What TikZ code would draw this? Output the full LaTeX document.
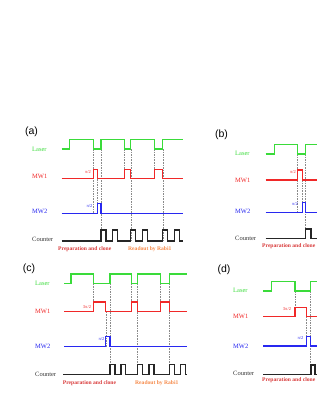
\documentclass[tikz,border=0pt]{standalone}
\usepackage{fontspec}
\setmainfont{Liberation Serif}
\newfontfamily\lsans{Liberation Sans}
\definecolor{lgreen}{HTML}{3ADB3A}
\definecolor{mred}{HTML}{F02828}
\definecolor{mblue}{HTML}{2828F0}
\definecolor{prepred}{HTML}{D83A3A}
\definecolor{readorange}{HTML}{F58A4A}
\definecolor{guidegrey}{HTML}{8A8A8A}
\begin{document}
\begin{tikzpicture}[x=1pt,y=-1pt,
  laser/.style={draw=lgreen,line width=1.25pt},
  mwone/.style={draw=mred,line width=1.25pt},
  mwtwo/.style={draw=mblue,line width=1.25pt},
  counter/.style={draw=black!85,line width=1.25pt},
  guide/.style={draw=guidegrey,line width=0.45pt,dash pattern=on 1.6pt off 1pt},
  lbl/.style={anchor=west,inner sep=0pt,font=\fontsize{6.5}{7}\selectfont},
  plab/.style={inner sep=0pt,font=\fontsize{4.5}{5}\selectfont},
  panel/.style={inner sep=0pt,font=\lsans\fontsize{10.5}{12}\selectfont},
  note/.style={anchor=west,inner sep=0pt,font=\bfseries\fontsize{5.6}{6}\selectfont}]
\useasboundingbox (0,0) rectangle (316,409);

% ================= (a) =================
\node[panel] (pa) at (31.5,131.5) {(a)};
\node[lbl,text=lgreen] (aL) at (32,149) {Laser};
\node[lbl,text=mred] (aM1) at (32,176.5) {MW1};
\node[lbl,text=mblue] (aM2) at (32,211) {MW2};
\node[lbl,text=black!80] (aC) at (32,239.5) {Counter};
% guides
\draw[guide] (93.3,149) -- (93.3,213.5);
\draw[guide] (97.3,179) -- (97.3,213.5);
\draw[guide] (101,149) -- (101,240.5);
\draw[guide] (124.3,149) -- (124.3,169.5);
\draw[guide] (130.8,149) -- (130.8,240.5);
\draw[guide] (154.2,149) -- (154.2,169.5);
\draw[guide] (162.8,149) -- (162.8,240.5);
% traces
\draw[laser] (61.7,149) -- (69.3,149) -- (69.3,139.7) -- (93.3,139.7) -- (93.3,149) -- (101,149) -- (101,139.7) -- (124.3,139.7) -- (124.3,149) -- (130.8,149) -- (130.8,139.7) -- (154.2,139.7) -- (154.2,149) -- (162.8,149) -- (162.8,139.7) -- (182.7,139.7);
\draw[mwone] (61.7,178.8) -- (93.3,178.8) -- (93.3,169.2) -- (97.3,169.2) -- (97.3,178.8) -- (124.3,178.8) -- (124.3,169.2) -- (130.8,169.2) -- (130.8,178.8) -- (154.2,178.8) -- (154.2,169.2) -- (162.8,169.2) -- (162.8,178.8) -- (182.7,178.8);
\draw[mwtwo] (61.7,213.5) -- (97.3,213.5) -- (97.3,203.3) -- (101,203.3) -- (101,213.5) -- (182.7,213.5);
\draw[counter] (61.7,241) -- (101,241) -- (101,230) -- (106,230) -- (106,241) -- (112.7,241) -- (112.7,230) -- (117.5,230) -- (117.5,241) -- (130.8,241) -- (130.8,230) -- (135.8,230) -- (135.8,241) -- (142.5,241) -- (142.5,230) -- (147.5,230) -- (147.5,241) -- (162.8,241) -- (162.8,230) -- (167.8,230) -- (167.8,241) -- (174.5,241) -- (174.5,230) -- (179.5,230) -- (179.5,241) -- (182.7,241);
\node[plab,text=mred] (apa) at (88,171.7) {π/2};
\node[plab,text=mblue] (apb) at (89.5,205.7) {π/2};
\node[note,text=prepred] (aprep) at (58,249) {Preparation and clone};
\node[note,text=readorange] (aread) at (128,249) {Readout by Rabi1};

% ================= (b) =================
\node[panel] (pb) at (221.5,135) {(b)};
\node[lbl,text=lgreen] (bL) at (235,153.5) {Laser};
\node[lbl,text=mred] (bM1) at (235,180) {MW1};
\node[lbl,text=mblue] (bM2) at (235,211) {MW2};
\node[lbl,text=black!80] (bC) at (235,238) {Counter};
\draw[guide] (297.7,154) -- (297.7,212.5);
\draw[guide] (302.7,180) -- (302.7,212.5);
\draw[guide] (305.7,154) -- (305.7,238);
\draw[laser] (265.7,154) -- (274.3,154) -- (274.3,144.3) -- (297.7,144.3) -- (297.7,154) -- (305.7,154) -- (305.7,144.3) -- (316.5,144.3);
\draw[mwone] (265.7,180) -- (297.7,180) -- (297.7,170) -- (302.7,170) -- (302.7,180) -- (316.5,180);
\draw[mwtwo] (265.7,212.7) -- (302.7,212.7) -- (302.7,202.7) -- (305.7,202.7) -- (305.7,212.7) -- (316.5,212.7);
\draw[counter] (265.7,238.3) -- (305.7,238.3) -- (305.7,229) -- (311,229) -- (311,238.3) -- (316.5,238.3);
\node[plab,text=mred] (bpa) at (293,172) {π/2};
\node[plab,text=mblue] (bpb) at (295,204) {π/2};
\node[note,text=prepred] (bprep) at (262,246) {Preparation and clone};

% ================= (c) =================
\node[panel] (pc) at (29,268.5) {(c)};
\node[lbl,text=lgreen] (cL) at (35,283.3) {Laser};
\node[lbl,text=mred] (cM1) at (35,311.7) {MW1};
\node[lbl,text=mblue] (cM2) at (35,346.7) {MW2};
\node[lbl,text=black!80] (cC) at (35,374.5) {Counter};
\draw[guide] (93.5,283.3) -- (93.5,302);
\draw[guide] (105.8,311.5) -- (105.8,346.5);
\draw[guide] (110,283.3) -- (110,374.7);
\draw[guide] (131.7,283.3) -- (131.7,302);
\draw[guide] (137.5,283.3) -- (137.5,374.7);
\draw[guide] (160.7,283.3) -- (160.7,302);
\draw[guide] (169.3,283.3) -- (169.3,374.7);
\draw[laser] (64,283.3) -- (71,283.3) -- (71,274) -- (93.5,274) -- (93.5,283.3) -- (110,283.3) -- (110,274) -- (131.7,274) -- (131.7,283.3) -- (137.5,283.3) -- (137.5,274) -- (160.7,274) -- (160.7,283.3) -- (169.3,283.3) -- (169.3,274) -- (186.7,274);
\draw[mwone] (64,311.5) -- (93.5,311.5) -- (93.5,302) -- (105.8,302) -- (105.8,311.5) -- (131.7,311.5) -- (131.7,302) -- (137.5,302) -- (137.5,311.5) -- (160.7,311.5) -- (160.7,302) -- (169.3,302) -- (169.3,311.5) -- (186.7,311.5);
\draw[mwtwo] (64,346.5) -- (105.8,346.5) -- (105.8,336.5) -- (110,336.5) -- (110,346.5) -- (186.7,346.5);
\draw[counter] (63.3,374.8) -- (110,374.8) -- (110,364.2) -- (115,364.2) -- (115,374.8) -- (121,374.8) -- (121,364.2) -- (125.7,364.2) -- (125.7,374.8) -- (137.5,374.8) -- (137.5,364.2) -- (142.5,364.2) -- (142.5,374.8) -- (149,374.8) -- (149,364.2) -- (154,364.2) -- (154,374.8) -- (169.3,374.8) -- (169.3,364.2) -- (174.3,364.2) -- (174.3,374.8) -- (180.5,374.8) -- (180.5,364.2) -- (185.5,364.2) -- (185.5,374.8) -- (186.7,374.8);
\node[plab,text=mred] (cpa) at (87,306.7) {3π/2};
\node[plab,text=mblue] (cpb) at (101.5,339.3) {π/2};
\node[note,text=prepred] (cprep) at (62.7,383.3) {Preparation and clone};
\node[note,text=readorange] (cread) at (135,383.3) {Readout by Rabi1};

% ================= (d) =================
\node[panel] (pd) at (224,270) {(d)};
\node[lbl,text=lgreen] (dL) at (233,290.5) {Laser};
\node[lbl,text=mred] (dM1) at (233,316.5) {MW1};
\node[lbl,text=mblue] (dM2) at (233,346) {MW2};
\node[lbl,text=black!80] (dC) at (233,373.5) {Counter};
\draw[guide] (295,291) -- (295,307.7);
\draw[guide] (306.7,316.7) -- (306.7,336.7);
\draw[guide,line width=0.8pt] (310.5,291) -- (310.5,374.3);
\draw[laser] (263.3,291) -- (271.7,291) -- (271.7,281.7) -- (295,281.7) -- (295,291) -- (310.5,291) -- (310.5,281.7) -- (316.5,281.7);
\draw[mwone] (263.3,316.7) -- (295,316.7) -- (295,307.7) -- (306.7,307.7) -- (306.7,316.7) -- (316.5,316.7);
\draw[mwtwo] (263.3,346) -- (306.7,346) -- (306.7,336.7) -- (310.5,336.7) -- (310.5,346) -- (316.5,346);
\draw[counter] (263.3,374.3) -- (311,374.3) -- (311,365) -- (315,365) -- (315,374.3) -- (316.5,374.3);
\node[plab,text=mred] (dpa) at (287,309.3) {3π/2};
\node[plab,text=mblue] (dpb) at (300.5,338.3) {π/2};
\node[note,text=prepred] (dprep) at (262,380.5) {Preparation and clone};
\end{tikzpicture}
\end{document}
